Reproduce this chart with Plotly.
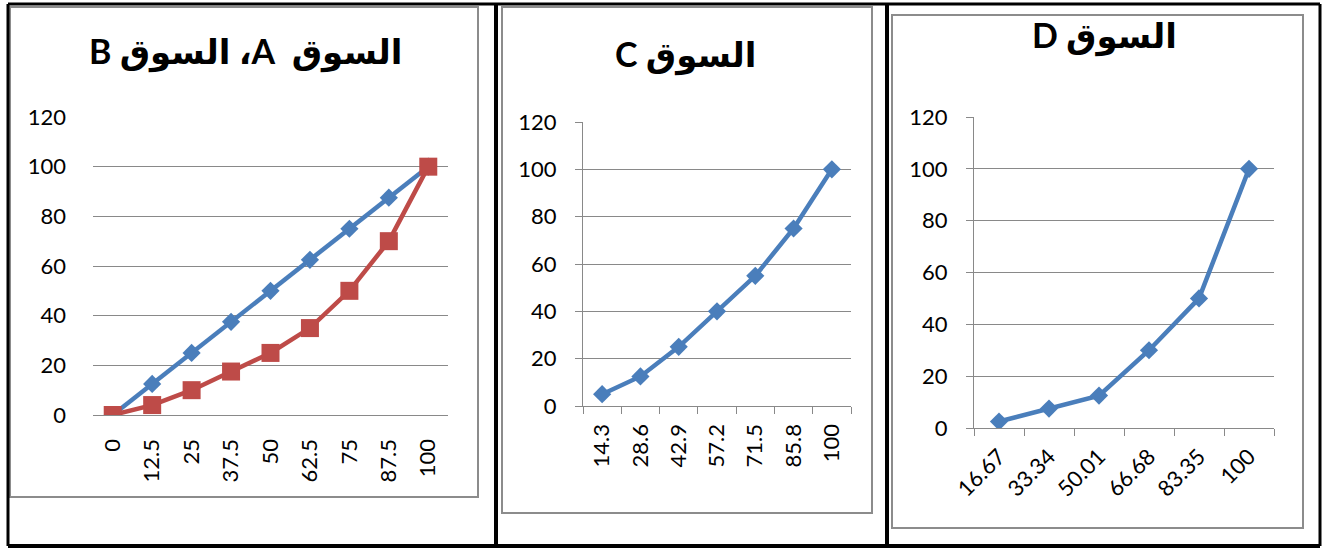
import plotly.graph_objects as go

# ---------------- data ----------------
cats_ab = ["0", "12.5", "25", "37.5", "50", "62.5", "75", "87.5", "100"]
market_a = [0, 12.5, 25, 37.5, 50, 62.5, 75, 87.5, 100]
market_b = [0, 4, 10, 17.5, 25, 35, 50, 70, 100]

cats_c = ["14.3", "28.6", "42.9", "57.2", "71.5", "85.8", "100"]
market_c = [5, 12.5, 25, 40, 55, 75, 100]

cats_d = ["16.67", "33.34", "50.01", "66.68", "83.35", "100"]
market_d = [2.5, 7.5, 12.5, 30, 50, 100]

y_ticks = [0, 20, 40, 60, 80, 100, 120]

title_ab = "\u202bالسوق  A، السوق B\u202c"
title_c = "\u202bالسوق C\u202c"
title_d = "\u202bالسوق D\u202c"

# ---------------- style ----------------
W, H = 1322, 550
BLUE = "#4A7EBB"
RED = "#BE4B48"
GRID = "#898989"
FONT = "Lato, 'Open Sans', sans-serif"
TFONT = "Lato, 'DejaVu Sans', sans-serif"


def px(x):
    return x / W


def py(y):
    return 1 - y / H


fig = go.Figure()

line_style = dict(width=4.5)
fig.add_trace(go.Scatter(x=cats_ab, y=market_a, mode="lines+markers", xaxis="x", yaxis="y",
                         line=dict(color=BLUE, **line_style),
                         marker=dict(symbol="diamond", size=14, color=BLUE)))
fig.add_trace(go.Scatter(x=cats_ab, y=market_b, mode="lines+markers", xaxis="x", yaxis="y",
                         line=dict(color=RED, **line_style),
                         marker=dict(symbol="square", size=18, color=RED)))
fig.add_trace(go.Scatter(x=cats_c, y=market_c, mode="lines+markers", xaxis="x2", yaxis="y2",
                         line=dict(color=BLUE, **line_style),
                         marker=dict(symbol="diamond", size=14, color=BLUE)))
fig.add_trace(go.Scatter(x=cats_d, y=market_d, mode="lines+markers", xaxis="x3", yaxis="y3",
                         line=dict(color=BLUE, **line_style),
                         marker=dict(symbol="diamond", size=14, color=BLUE)))

tickfont = dict(family=FONT, size=22, color="black")


def xaxis(domain, anchor, n, angle, ticks, standoff):
    return dict(domain=domain, anchor=anchor, type="category", range=[-0.5, n - 0.5],
                showgrid=False, zeroline=False, showline=True, linecolor=GRID, linewidth=1.3,
                ticks=ticks, ticklen=7, tickcolor=GRID, tickwidth=1.3, tickson="boundaries",
                tickangle=angle, tickfont=tickfont, ticklabelstandoff=standoff,
                automargin=False, fixedrange=True)


def yaxis(domain, anchor, showline, ticks, standoff):
    return dict(domain=domain, anchor=anchor, range=[0, 120], tickvals=y_ticks,
                showgrid=True, gridcolor=GRID, gridwidth=1.3, zeroline=False,
                showline=showline, linecolor=GRID, linewidth=1.3,
                ticks=ticks, ticklen=7, tickcolor=GRID, tickwidth=1.3,
                tickfont=tickfont, ticklabelstandoff=standoff,
                automargin=False, fixedrange=True)


fig.update_layout(
    width=W, height=H, margin=dict(l=0, r=0, t=0, b=0, autoexpand=False),
    paper_bgcolor="white", plot_bgcolor="white", showlegend=False,
    xaxis=xaxis([px(93), px(448)], "y", len(cats_ab), -90, "", 14),
    yaxis=yaxis([py(415), py(117)], "x", False, "", 26),
    xaxis2=xaxis([px(583), px(851)], "y2", len(cats_c), -90, "outside", 8),
    yaxis2=yaxis([py(406), py(122)], "x2", True, "outside", 14),
    xaxis3=xaxis([px(974), px(1274)], "y3", len(cats_d), -45, "outside", 6),
    yaxis3=yaxis([py(428), py(117)], "x3", True, "outside", 14),
)

# titles
for text, cx, cy in [(title_ab, 245, 51), (title_c, 686, 55), (title_d, 1104, 36)]:
    fig.add_annotation(text="<b>" + text + "</b>", x=px(cx), y=py(cy), xref="paper", yref="paper",
                       xanchor="center", yanchor="middle", showarrow=False,
                       font=dict(family=TFONT, size=34, color="black"))

# inner gray chart frames
for x0, y0, x1, y1 in [(10, 7, 478, 497), (502, 7, 872, 513), (892, 15, 1303, 528)]:
    fig.add_shape(type="rect", xref="paper", yref="paper",
                  x0=px(x0), x1=px(x1), y0=py(y1), y1=py(y0),
                  line=dict(color="#8C8C8C", width=2), fillcolor="rgba(0,0,0,0)", layer="above")

# outer black table frame
for x0, y0, x1, y1, w in [(8, 4, 1320, 4, 3), (8, 546, 1320, 546, 4), (8, 4, 8, 546, 3),
                          (1320, 4, 1320, 546, 3), (496, 4, 496, 546, 4), (887, 4, 887, 546, 4)]:
    fig.add_shape(type="line", xref="paper", yref="paper",
                  x0=px(x0), x1=px(x1), y0=py(y0), y1=py(y1),
                  line=dict(color="black", width=w), layer="above")

fig.write_html("out.html", config={"displayModeBar": False})
